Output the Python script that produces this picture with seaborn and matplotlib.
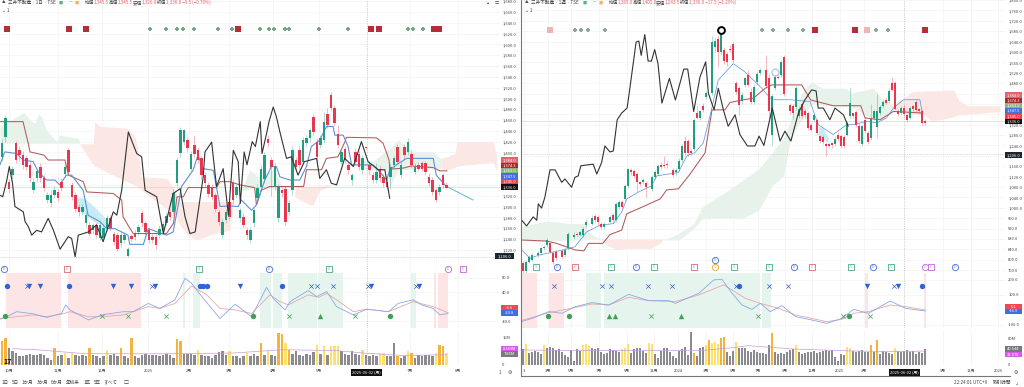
import numpy as np
import pandas as pd
import seaborn as sns
import matplotlib
matplotlib.use("Agg")
import matplotlib.pyplot as plt

sns.set_theme(style="white")
plt.rcParams['font.family'] = ['Noto Sans CJK JP', 'DejaVu Sans']
plt.rcParams['axes.unicode_minus'] = False

UP, DOWN = '#1f9e80', '#e8384f'

# ------------------- daily chart (left) -------------------
l_open = [1392,1429,1345,1358,1417,1404,1395,1389,1377,1330,1352,1374,1352,1312,1306,1321,1327,1346,1361,1404,1340,1321,1300,1290,1270,1266,1256,1265,1241,1241,1260,1278,1250,1247,1232,1238,1208,1245,1250,1253,1288,1269,1256,1244,1244,1247,1256,1270,1290,1290,1343,1399,1420,1423,1370,1414,1404,1389,1358,1340,1336,1321,1290,1247,1275,1309,1343,1321,1278,1281,1256,1238,1269,1315,1337,1350,1424,1386,1337,1278,1330,1333,1290,1330,1386,1405,1383,1417,1426,1466,1420,1414,1423,1472,1506,1482,1435,1383,1407,1377,1349,1401,1398,1367,1410,1377,1358,1349,1370,1355,1346,1355,1377,1411,1358,1411,1401,1398,1364,1377,1380,1380,1355,1349,1330,1327,1358,1340]
l_close = [1417,1463,1333,1370,1386,1395,1377,1374,1352,1346,1365,1352,1335,1321,1321,1330,1315,1334,1374,1364,1318,1296,1290,1300,1285,1250,1265,1247,1266,1260,1278,1260,1235,1222,1247,1247,1222,1240,1244,1262,1269,1253,1238,1238,1229,1259,1268,1282,1281,1325,1386,1441,1441,1408,1398,1398,1386,1358,1343,1324,1318,1296,1272,1272,1290,1281,1312,1337,1293,1266,1247,1256,1293,1335,1370,1395,1418,1374,1374,1337,1325,1272,1306,1405,1374,1377,1423,1426,1441,1438,1392,1426,1457,1451,1482,1454,1414,1401,1386,1367,1358,1383,1374,1389,1408,1367,1349,1364,1352,1343,1336,1374,1389,1383,1377,1395,1420,1377,1374,1370,1370,1364,1343,1327,1312,1336,1340,1335]
l_high = [1425,1470,1350,1375,1422,1412,1402,1395,1385,1352,1370,1380,1358,1326,1330,1338,1332,1352,1380,1408,1345,1326,1305,1305,1290,1272,1270,1270,1272,1268,1284,1285,1255,1252,1252,1252,1226,1250,1256,1268,1294,1274,1262,1250,1250,1265,1274,1288,1296,1332,1392,1447,1444,1428,1402,1432,1410,1394,1364,1345,1342,1326,1296,1278,1296,1315,1350,1342,1298,1288,1262,1262,1298,1342,1376,1400,1432,1392,1380,1342,1336,1338,1312,1412,1392,1412,1428,1432,1446,1472,1426,1432,1475,1482,1512,1488,1450,1408,1412,1382,1362,1408,1402,1395,1412,1384,1364,1380,1376,1360,1352,1380,1394,1416,1384,1416,1426,1404,1380,1382,1384,1385,1362,1354,1335,1342,1362,1345]
l_low = [1385,1420,1325,1350,1380,1385,1370,1368,1345,1325,1345,1345,1328,1306,1300,1315,1310,1328,1355,1360,1312,1290,1282,1285,1262,1245,1250,1242,1238,1236,1255,1255,1228,1218,1226,1233,1206,1235,1238,1248,1262,1248,1232,1232,1222,1242,1250,1265,1275,1285,1338,1392,1414,1400,1365,1392,1380,1350,1336,1318,1312,1290,1265,1242,1270,1275,1305,1316,1272,1260,1240,1232,1262,1308,1330,1345,1410,1320,1330,1272,1318,1266,1285,1322,1368,1370,1378,1410,1420,1432,1375,1408,1418,1445,1476,1448,1408,1378,1380,1360,1340,1378,1368,1360,1406,1360,1344,1344,1346,1336,1330,1332,1372,1378,1352,1388,1396,1372,1360,1365,1365,1358,1338,1322,1308,1322,1335,1332]

l_kijun_x = [-0.6,6,7.5,8,12,13.2,18,19,23.2,24.2,31.8,34.2,34.6,36.6,37.5,47,49,50,51.8,53.2,61.3,62.3,65.1,68,72.2,72.7,74.1,76.5,86.2,87,91.3,92.7,96,98,98.4,107,108.9,110.6,110.8,114.6,117,123.2,125.1,127.2]
l_kijun = [1457,1457,1417,1401,1395,1386,1386,1358,1346,1327,1324,1312,1281,1259,1250,1250,1269,1318,1318,1335,1335,1346,1346,1340,1335,1303,1330,1337,1337,1368,1368,1389,1392,1420,1428,1427,1417,1386,1369,1371,1375,1372,1366,1366]
l_tenkan_x = [-0.6,0.8,4.2,6,8.9,10.4,12.7,15.1,16.5,18.4,19.9,23.2,24.6,28,29.9,32.3,36,36.5,40.4,41.8,47,48.9,50.8,51.3,54.6,56,57.5,60.4,62.3,65.1,67.5,68.4,71.3,72.7,75.1,77,78.4,79.4,82.2,85.1,87,88.4,90.8,92.7,94.6,95.1,97.5,98.9,99.9,106,107,109.9,110.8,112.7,115.6,123.2,124.1,127]
l_tenkan = [1377,1401,1398,1386,1383,1364,1349,1349,1340,1358,1358,1330,1284,1272,1259,1259,1247,1230,1230,1259,1247,1253,1318,1337,1367,1395,1370,1367,1300,1301,1300,1312,1293,1303,1349,1374,1374,1355,1349,1349,1374,1411,1423,1448,1448,1432,1432,1411,1377,1377,1371,1349,1368,1377,1389,1389,1358,1337]
l_chikou_x = [-0.6,0.2,1.3,2.1,3,3.7,6.1,6.6,7.5,8.5,9.9,11.3,13.2,14.7,16.6,18.9,19.9,20.9,21.8,24.7,27,28.9,31.8,32.8,34.2,36.1,38.5,39.9,40.9,44.2,46.1,48.9,50.9,52.3,53.7,55.2,57.5,58,59.9,61.3,63.2,64.7,66.1,67.5,68.1,69.2,70,71.5,72.4,73.8,74.3,75.6,76.3,77.5,78.4,79.4,81.3,82.7,84.6,86.4,89.9,90.8,92.7,94.1,95.6,97.9,100.4,102.7,104.6,107.5,109.4,110.8]
l_chikou = [1321,1318,1346,1374,1343,1300,1290,1272,1263,1247,1256,1253,1278,1256,1221,1244,1241,1207,1247,1253,1266,1235,1290,1284,1330,1438,1398,1392,1330,1318,1250,1324,1333,1281,1250,1253,1355,1401,1419,1337,1370,1284,1404,1383,1306,1401,1377,1420,1411,1457,1398,1435,1457,1484,1466,1438,1389,1392,1358,1383,1389,1352,1368,1343,1340,1389,1374,1420,1383,1368,1368,1315]
l_cloud_g1_x = [-0.6,4.2,6.3,8,9.4,10.4,11.3,12.7,15.6,16.4,21.8,22.3]
l_cloud_g1_top = [1448,1466,1474,1460,1454,1471,1466,1441,1420,1432,1426,1417]
l_cloud_g1_bot = [1417]*12
l_cloud_r1_x = [22.3,26.1,26.5,28,35.6,38,39,39.9,47,48.9,50.8,52.7,55.6,60.4,65.1,66]
l_cloud_r1_top = [1416,1416,1457,1448,1445,1429,1398,1355,1352,1337,1309,1309,1309,1309,1309,1309]
l_cloud_r1_bot = [1414,1377,1375,1370,1346,1340,1335,1330,1296,1293,1266,1250,1238,1250,1256,1306]
l_cloud_g2_x = [65.1,68.9,70.8,73.2,77.5,80.3,81.3]
l_cloud_g2_top = [1330,1337,1368,1355,1368,1337,1337]
l_cloud_g2_bot = [1327,1330,1333,1337,1337,1335,1303]
l_cloud_r2_x = [83.7,88,88.9,90.8,93.7]
l_cloud_r2_top = [1337,1337,1337,1337,1340]
l_cloud_r2_bot = [1318,1303,1303,1330,1338]
l_cloud_g3_x = [102.7,106,109.9,110.8,113.2,115.1,117,123.2,125.3]
l_cloud_g3_top = [1386,1383,1404,1408,1423,1414,1401,1401,1389]
l_cloud_g3_bot = [1368,1368,1368,1337,1368,1368,1369,1370,1371]
l_cloud_r3_x = [125.4,127.1,129.4,130,140.3,141.4]
l_cloud_r3_top = [1389,1392,1398,1420,1420,1390]
l_cloud_r3_bot = [1370,1368,1372,1375,1382,1365]
l_cyan_x = [20.8,23.7,27,29.9]
l_cyan_top = [1318,1315,1296,1275]
l_cyan_bot = [1300,1284,1269,1266]
l_forecast_x = [127.4,134.6]
l_forecast = [1336,1312]

l_macd_x = [-.6,1.3,4.2,6.6,8.9,12.8,17,18.2,19.4,24.7,28.5,34.7,37.5,41.8,45.1,49.4,52.3,54.2,57.1,62.3,66.6,71.3,75.6,77.5,80.9,82.3,87.5,89.9,92.8,95.6,100.4,104.2,110.4,113.2,117.5,119.9,123.2,125.1,127.5]
l_macd = [-35,-28,-14,-17,-20,-30,-19,5,-9,-37,-23,-14,-14,9,-5,19,79,65,28,-33,7,-28,54,23,-9,14,45,28,42,0,-23,-7,-14,9,19,5,-5,-23,-19]
l_signal_x = [-.6,8.9,12.8,17,19.4,24.7,28.5,34.7,41.8,45.1,49.4,54.2,58.5,62.3,66.6,71.3,76.6,79.4,81.8,87.5,90.4,92.8,95.6,100.4,104.2,110.4,117.5,123.2,127.5]
l_signal = [-33,-23,-28,-21,-14,-28,-28,-23,0,-5,9,58,33,-5,-9,-19,33,14,5,33,26,37,19,-14,-7,-14,14,0,-17]
l_red_spans = [(1.1,17),(18.9,39.6),(123.4,124),(124.7,127.5)]
l_green_spans = [(51.6,52.3),(54.7,56.6),(73.7,77),(77.5,79.9),(81.8,89.9),(90.4,97.3),(117,118.2)]
l_blue_circle = [1.3,19.2,56.6,57.5,58.5,80.1]
l_blue_tri = [7.8,10.9,31.6,36.8,43.7,68,105.4,119.2]
l_blue_x = [7.1,42.8,88.2,90.1,94.5,104.5,118.3]
l_green_circle = [.8,71.8,110.9]
l_green_tri = [90.9]
l_green_x = [28.5,36.1,46.8,82,100.9]

l_vol = [13.1,15.0,9.4,7.5,6.5,4.7,4.7,5.6,6.0,5.6,5.6,6.0,5.6,3.8,3.0,9.4,4.7,5.6,6.6,4.1,6.6,5.6,4.7,5.6,5.2,9.4,5.6,4.7,3.8,5.2,8.4,5.6,6.0,5.2,9.4,4.7,3.8,15.0,4.7,4.1,5.6,6.0,5.6,5.6,5.6,5.2,5.6,6.0,5.6,4.1,14.1,13.1,6.0,6.0,6.0,5.6,8.4,5.6,5.2,4.7,4.1,5.6,7.0,7.5,5.6,7.5,5.2,4.7,3.8,4.7,6.6,5.2,6.0,5.2,12.2,5.6,7.5,5.6,5.2,17.8,16.9,12.2,8.4,6.0,7.5,5.6,4.7,6.0,5.6,7.0,11.2,6.0,10.3,5.6,10.3,10.3,10.3,7.5,6.0,5.6,7.5,6.0,5.6,8.4,5.6,5.2,5.6,5.0,6.6,6.6,4.7,5.2,12.2,4.7,4.1,5.2,7.5,6.6,3.8,5.6,5.2,5.6,5.6,4.7,6.6,11.2,10.3,6.6]
l_cat = [2,2,0,0,0,0,0,0,0,0,0,0,0,0,0,2,0,0,1,0,1,0,0,0,0,2,0,0,0,0,1,0,0,0,2,0,0,2,0,0,0,0,0,0,0,0,0,0,0,0,2,2,0,0,0,0,1,0,0,0,0,0,0,0,0,1,0,0,0,0,1,0,0,0,2,0,1,0,0,2,2,1,2,0,0,0,0,0,0,0,1,0,1,0,1,1,1,0,0,0,0,0,0,1,0,0,0,0,1,1,0,0,0,2,0,0,1,2,0,0,0,0,0,0,1,2,2,1]
l_vol_ma_x = [3,10,22,28,47,66,80,95,104,114,127]
l_vol_ma = [9.0,8.4,6.5,6.2,6.2,6.6,8.4,8.0,6.5,5.3,5.6]

l_top_red = [1.4,19.1,24,67.4,105.4,107.7,123.4,124.9]
l_top_small = [42.3,46.9,50,51.7,54.9,61.7,65.7,73.7,76.3,77.7,80.9,82,90.6,98.9,116,117.4,120.3]
l_icons = [(.6,'D','#5b7fd6'),(18.6,'E','#e27d84'),(56.3,'S','#5fb59a'),(76.3,'D','#5b7fd6'),(93.4,'S','#5fb59a'),(127.4,'D','#c77bdc'),(131.7,'E','#c77bdc')]

l_month_labels = ['10月','11月','12月','2025','2月','3月','4月','5月','7月','8月']
l_month_pos = [2,16,28.6,41.7,53.4,64.9,77.4,90.6,116.6,130.3]

# ------------------- weekly chart (right) -------------------
r_week = [0,1,2,3,5,6,7,8,9,10,11,13,14,15,17,18,19,20,21,23,24,25,26,27,29,30,31,32,33,34,35,36,37,38,39,40,41,43,44,45,46,47,48,50,51,52,53,54,55,56,57,58,59,
          60,61,63,64,65,66,67,68,69,70,71,72,73,74,75,76,77,78,79,81,82,83,84,85,86,87,89,90,91,92,93,94,95,96,97,98,99,100,101,102,103,104,105,106,107,108,109,110,111,112,113,114,115,116,117,118,119,120,121,122,123,124,125,126,127,128,129,130,131,132,133,134]
r_open = [787,755,793,800,819,825,844,857,863,825,831,834,819,844,888,901,897,895,935,939,968,965,939,926,946,971,952,1003,1024,1034,1085,1146,1142,1130,1098,1100,1095,1073,1120,1130,1164,1165,1168,1146,1136,1149,1184,1257,1257,1219,1225,1365,1346,
          1393,1428,1441,1619,1650,1600,1609,1593,1612,1629,1479,1460,1412,1473,1511,1447,1409,1485,1520,1530,1498,1282,1460,1504,1511,1581,1396,1390,1388,1352,1400,1371,1365,1320,1339,1339,1276,1273,1244,1244,1248,1244,1282,1276,1272,1282,1352,1365,1367,1316,1244,1339,1288,1270,1346,1311,1365,1390,1415,1413,1479,1479,1371,1365,1384,1358,1346,1390,1409,1380,1374,1333]
r_close = [755,793,812,819,825,844,850,876,831,793,806,812,838,901,897,895,905,918,946,961,952,946,926,939,965,952,1015,1022,1003,1083,1149,1136,1123,1098,1092,1108,1079,1117,1136,1162,1159,1162,1164,1127,1146,1181,1238,1212,1212,1212,1339,1346,1371,
          1377,1441,1638,1642,1600,1670,1565,1562,1609,1570,1447,1396,1435,1498,1473,1409,1466,1517,1532,1470,1371,1431,1504,1500,1562,1438,1371,1365,1460,1380,1352,1358,1308,1301,1358,1288,1257,1253,1238,1238,1240,1266,1266,1238,1238,1327,1405,1352,1320,1257,1314,1295,1253,1342,1371,1371,1388,1409,1405,1451,1454,1380,1361,1386,1361,1339,1384,1380,1377,1371,1327,1327]
r_high = [795,800,820,826,832,850,858,885,870,832,838,842,845,908,905,908,912,925,955,972,975,972,946,945,972,980,1022,1030,1030,1090,1155,1152,1150,1138,1105,1115,1103,1125,1145,1170,1175,1200,1182,1155,1152,1190,1246,1275,1265,1228,1345,1390,1378,
          1405,1448,1660,1652,1665,1695,1620,1600,1625,1640,1490,1470,1445,1505,1530,1460,1475,1525,1540,1590,1515,1440,1512,1510,1570,1590,1405,1398,1470,1390,1408,1380,1372,1328,1365,1345,1282,1280,1255,1250,1255,1275,1290,1285,1282,1335,1465,1362,1375,1325,1320,1348,1295,1400,1378,1440,1395,1415,1425,1460,1504,1490,1380,1392,1395,1366,1392,1396,1415,1385,1380,1340]
r_low = [748,750,788,795,812,820,838,850,825,785,798,805,812,838,880,890,890,888,928,932,945,935,918,920,940,940,945,995,995,1028,1078,1125,1115,1060,1085,1092,1040,1065,1112,1122,1150,1155,1155,1120,1128,1142,1178,1205,1200,1205,1218,1340,1338,
          1370,1420,1435,1600,1542,1590,1552,1545,1600,1560,1440,1358,1400,1465,1465,1400,1400,1478,1512,1462,1340,1240,1455,1495,1505,1430,1360,1340,1380,1345,1340,1345,1300,1295,1330,1280,1250,1245,1200,1230,1232,1238,1258,1230,1230,1275,1345,1345,1312,1250,1238,1288,1245,1262,1338,1270,1358,1385,1398,1405,1448,1375,1352,1358,1352,1330,1340,1372,1370,1365,1320,1318]

r_kijun_x = [-.4,7.9,11.2,17.3,20.3,21.8,26.6,29,32.9,34.6,38.4,45.7,47.9,51.8,55.7,60.7,61.5,63,67.3,69,72.9,76.8,80.7,82.9,92.9,95.9,103.4,112.6,114,119,123.5,132.9]
r_kijun = [876,872,863,838,834,863,863,897,914,977,996,1034,1069,1073,1130,1212,1270,1377,1377,1405,1415,1422,1460,1473,1473,1415,1393,1393,1346,1339,1371,1365]
r_tenkan_x = [-.4,2.3,5.7,13.4,17.3,21.2,25.7,30.1,32.9,34.6,38.4,42.9,44.6,51.8,54.6,57.3,60.1,62.3,65.1,70.1,74,79.6,82.9,89,95.7,98.4,103.4,107.9,110.1,114.6,117.9,121.2,123.5,126.8,132.3,133]
r_tenkan = [838,806,819,838,850,907,933,939,984,1034,1060,1085,1123,1136,1200,1212,1250,1352,1492,1555,1523,1460,1416,1416,1409,1320,1282,1320,1320,1333,1327,1346,1384,1416,1416,1371]
r_chikou_x = [-.4,1.2,3.4,4.6,5.1,6.2,7.3,9,10.7,12.9,14,16.2,17.3,18.4,19.3,23.4,24.6,26.2,27.3,29,30.1,31.4,32.9,34.7,35.4,37.7,38.6,39.4,40.6,41.7,42.8,43.9,45,46.3,48.8,50.8,53.6,54.9,56.9,59,60.9,61.8,63.7,65.1,66.8,68.4,70.7,72.3,74.8,77.3,78.7,80.3,83.1,85.7,87.3,89.3,91.8,94,96.2,97.7,98.4,100.1,102.3,104,106.8,108.4]
r_chikou = [952,930,965,952,1015,999,1041,1146,1146,1098,1111,1079,1117,1123,1162,1168,1130,1174,1238,1215,1219,1339,1365,1384,1441,1638,1642,1587,1667,1565,1565,1609,1555,1403,1498,1415,1534,1534,1371,1504,1562,1441,1377,1460,1377,1314,1358,1282,1238,1238,1276,1240,1384,1257,1295,1257,1365,1416,1454,1450,1384,1384,1339,1384,1358,1314]
r_cloud_g1_x = [-.4,3.4,8.4,15.7,20.7,22.3,25.7]
r_cloud_g1_top = [926,939,949,939,939,901,880]
r_cloud_g1_bot = [880,872,872,876,876,880,880]
r_cloud_r1_x = [25.7,27.9,31.2,34.6,42.3,45.7,46.8]
r_cloud_r1_top = [880]*7
r_cloud_r1_bot = [880,857,838,844,844,863,880]
r_cloud_g2_x = [46.9,51.9,56.9,59.7,67.4,73,78.6,83,86.9,89,90,94,96.2,100,107.9,109,116.8,119.5,122.3,124]
r_cloud_g2_top = [876,901,939,1003,1060,1104,1149,1212,1270,1327,1377,1460,1485,1460,1460,1441,1460,1422,1403,1385]
r_cloud_g2_bot = [876,876,920,958,961,958,990,1085,1123,1257,1285,1360,1403,1393,1393,1393,1340,1339,1365,1380]
r_cloud_r2_x = [122.3,126.9,129.7,134,136.3,143.5,145.2,148,159]
r_cloud_r2_top = [1384,1422,1447,1450,1450,1454,1415,1393,1393]
r_cloud_r2_bot = [1384,1365,1362,1358,1333,1350,1358,1360,1371]
r_cyan_x = [98.4,100.1,101.8]
r_cyan_top = [1314,1308,1270]
r_cyan_bot = [1282,1263,1250]

r_macd_x = [-.6,3,8.6,13,17.4,23,28.6,35.2,41.9,48.6,50.8,58.6,63.6,66.3,69.7,73,76.3,79.1,82.4,86.3,90.8,96.3,101.3,106.3,110.2,115.2,122.4,127.5,134.1]
r_macd = [-78,-56,-11,-22,22,49,33,104,62,62,44,111,200,204,111,33,4,44,-11,29,-44,-67,-89,-56,4,-22,60,11,-7]
r_signal_x = [-.6,8.6,17.4,23,28.6,35.2,41.9,50.8,58.6,66.9,74.1,79.1,85.2,90.8,101.3,106.3,110.2,115.2,122.4,127.5,134.1]
r_signal = [-71,-18,16,40,33,84,62,56,100,167,78,44,11,-33,-78,-62,-22,-11,33,22,0]
r_red_spans = [(-.6,4.7),(8.8,13.8),(114.1,115),(133.6,134.3)]
r_green_spans = [(21,26),(27.1,79.1),(79.7,82.7)]
r_blue_x = [10.2,26.4,29.4,41.6,49.8,71,82.1,88.2,123.8]
r_blue_circle = [72.1,132.9]
r_blue_tri = [114.7,124.9]
r_green_circle = [8.2,15.2,108.6]
r_green_tri = [28.6,30.6,52.8]
r_green_x = [42.7,78.2,106.6,115.6]

r_vol = [48,62,36,40,42,40,32,60,52,55,50,45,48,38,30,25,45,12,48,42,60,62,58,50,48,50,38,34,36,48,45,42,38,48,52,63,36,48,50,52,42,36,65,62,32,22,42,50,52,38,28,20,42,48,54,30,98,36,26,50,55,60,75,65,70,62,82,85,40,28,42,70,50,52,50,42,38,44,38,36,36,34,60,95,40,34,35,34,40,46,48,60,38,32,36,38,40,42,36,38,42,44,42,44,25,12,32,30,55,52,42,38,42,44,40,38,60,40,75,34,42,40,36,34,50,42,38,42,44,38,42,34,38,36,48]
r_cat = [0,1,0,0,0,0,0,1,0,0,0,0,0,0,0,0,0,0,0,0,1,1,1,0,0,0,0,0,0,0,0,0,0,1,1,1,0,0,0,0,0,0,1,1,0,0,0,0,0,0,0,0,0,0,0,0,0,2,0,0,0,1,2,1,1,1,2,2,0,0,0,1,0,0,0,0,0,0,0,0,0,0,0,2,0,0,0,0,0,0,0,1,0,0,0,0,0,0,0,0,0,0,0,0,0,0,0,0,1,1,0,0,0,0,0,0,2,0,2,0,0,0,0,0,1,0,0,0,0,0,0,0,0,0,0]
r_vol_ma_x = [0,20,40,60,70,75,90,110,125,134]
r_vol_ma = [45,43,44,44,52,58,48,42,40,42]

r_top_red = [97.3,110.7,134]
r_top_pale = [9,114.7]
r_top_small = [17.4,19.3,21.6,27.4,79.7,83.3,88.3,93.3,117.7,121.7]
r_icons = [(4.3,'S','#5fb59a'),(11.3,'D','#5b7fd6'),(17.3,'E','#e27d84'),(29.3,'S','#5fb59a'),(37.7,'D','#5b7fd6'),(43.7,'S','#5fb59a'),(57,'E','#e27d84'),(64,'O','#eeb14d'),(70.3,'S','#5fb59a'),(82,'S','#5fb59a'),(90.3,'D','#5b7fd6'),(96.3,'E','#e27d84'),(109.3,'S','#5fb59a'),(116.7,'D','#5b7fd6'),(122.7,'S','#5fb59a'),(134,'D','#c77bdc'),(136,'E','#c77bdc'),(144,'D','#5b7fd6')]

r_month_labels = ['3','3月','5月','7月','9月','11月','2024','3月','5月','7月','9月','11月','2025','3月','9月','11月','2026']
r_month_pos = [0.2,8.4,16.1,25.2,34.7,43.8,51.7,60.9,70.1,78.3,87.2,96.3,105.6,113.6,140,149.4,158.4]

# ------------------- figure -------------------
W, H = 1024, 387
fig = plt.figure(figsize=(W/100, H/100), dpi=100, facecolor='white')

def rect(x0, y0, x1, y1):
    return [x0/W, 1-y1/H, (x1-x0)/W, (y1-y0)/H]

TICK = 2.9
GRID = '#f3f3f3'

def style(ax, yticks, fmt):
    sns.despine(ax=ax, left=True, bottom=True, right=True, top=True)
    ax.set_facecolor('none')
    ax.yaxis.tick_right()
    ax.set_yticks(yticks)
    ax.set_yticklabels([fmt(v) for v in yticks])
    ax.tick_params(axis='y', labelsize=TICK, length=0, pad=1.6, labelcolor='#444444')
    ax.set_xlabel(''); ax.set_ylabel('')

def line(ax, x, y, color, lw, z=3):
    sns.lineplot(x=x, y=y, ax=ax, color=color, lw=lw, estimator=None, sort=False, zorder=z, legend=False)

def cloud(ax, x, top, bot, color):
    ax.fill_between(x, bot, top, color=color, lw=0, zorder=1)

def candles(ax, x, o, c, h, l, width):
    o, c, h, l, x = map(np.asarray, (o, c, h, l, x))
    col = np.where(c >= o, UP, DOWN)
    ax.vlines(x, l, h, colors=col, lw=0.45, alpha=.55, zorder=4)
    ax.bar(x, np.abs(c-o), bottom=np.minimum(o, c), width=width, color=col, lw=0, zorder=4)

def markers(ax, x, yval, m, color, s=15, lw=0.0, **kw):
    if len(x) == 0:
        return
    sns.scatterplot(x=x, y=[yval]*len(x), ax=ax, marker=m, color=color, s=s, legend=False, zorder=5, linewidth=lw, **kw)

VOL_COL = {0: '#8a8a90', 1: '#fde26a', 2: '#f6b23e'}

def vol_bars(ax, idx, vol, cat):
    ax.bar(idx, vol, width=.8, color=[VOL_COL[k] for k in cat], lw=0, zorder=3)

def icons(ax, items, yval):
    for xv, ch, col in items:
        sns.scatterplot(x=[xv], y=[yval], ax=ax, marker='o' if ch in 'DO' else 's', s=20, facecolor='white',
                        edgecolor=col, linewidth=.7, legend=False, zorder=6)
        ax.text(xv, yval, ch, fontsize=2.6, color=col, ha='center', va='center', zorder=7)

BLUE_LINE = '#5f8fd8'; RED_LINE = '#b05a5d'; BLACK = '#333333'
CG = '#e7f2eb'; CR = '#fbe7e4'; MK = '#2f62d8'; MG = '#3f9f55'

def panel(x0, x1, xlim, ylim, pticks, vert, h_price, last, o, c, h, l, xs, width,
          kij, ten, chi, clouds, cyan, macd, sig, macd_lim, mticks, mfmt, red_sp, green_sp,
          vols, cats, volx, ma, vlim, vticks, vfmt, months, ten_lw):
    ax = fig.add_axes(rect(x0, 0, x1, 273))
    for cl in clouds:
        cloud(ax, *cl)
    cloud(ax, *cyan)
    candles(ax, xs, o, c, h, l, width)
    line(ax, *kij, RED_LINE, 0.75)
    line(ax, *ten, BLUE_LINE, ten_lw)
    line(ax, *chi, BLACK, 0.8, z=5)
    ax.axhline(last, color='#f4c9c9', lw=.5, zorder=2)
    ax.axhline(h_price, color='#bbbbbb', lw=.4, ls=(0, (2, 2)), zorder=2)
    ax.axvline(vert, color='#aaaaaa', lw=.4, ls=(0, (2, 2)), zorder=2)
    ax.set_xlim(*xlim); ax.set_ylim(*ylim)
    style(ax, pticks, lambda v: f"{v:,.1f}")
    ax.set_xticks(months[1]); ax.set_xticklabels([])
    ax.tick_params(axis='x', length=0)
    ax.grid(True, color=GRID, lw=.5); ax.set_axisbelow(True)

    am = fig.add_axes(rect(x0, 273, x1, 328))
    for a, b in red_sp:
        am.axvspan(a, b, color='#fde5e5', lw=0, zorder=1)
    for a, b in green_sp:
        am.axvspan(a, b, color='#e6f4ee', lw=0, zorder=1)
    line(am, *sig, '#e4a8a8', .6)
    line(am, *macd, '#8aa9e6', .6)
    am.axvline(vert, color='#aaaaaa', lw=.4, ls=(0, (2, 2)))
    am.set_xlim(*xlim); am.set_ylim(*macd_lim)
    style(am, mticks, mfmt)
    am.set_xticks(months[1]); am.set_xticklabels([])
    am.tick_params(axis='x', length=0)
    am.grid(True, color=GRID, lw=.5); am.set_axisbelow(True)

    av = fig.add_axes(rect(x0, 330, x1, 365))
    vol_bars(av, volx, vols, cats)
    line(av, *ma, '#c99ad9', .5, z=5)
    av.axvline(vert, color='#aaaaaa', lw=.4, ls=(0, (2, 2)))
    av.set_xlim(*xlim); av.set_ylim(*vlim)
    style(av, vticks, vfmt)
    av.set_xticks(months[1]); av.set_xticklabels(months[0])
    av.tick_params(axis='x', labelsize=TICK, length=0, pad=3, labelcolor='#444444')
    av.grid(True, color=GRID, lw=.5, axis='x'); av.set_axisbelow(True)
    return ax, am, av

l_clouds = [(l_cloud_g1_x, l_cloud_g1_top, l_cloud_g1_bot, CG), (l_cloud_r1_x, l_cloud_r1_top, l_cloud_r1_bot, CR),
            (l_cloud_g2_x, l_cloud_g2_top, l_cloud_g2_bot, CG), (l_cloud_r2_x, l_cloud_r2_top, l_cloud_r2_bot, CR),
            (l_cloud_g3_x, l_cloud_g3_top, l_cloud_g3_bot, CG), (l_cloud_r3_x, l_cloud_r3_top, l_cloud_r3_bot, CR)]
r_clouds = [(r_cloud_g1_x, r_cloud_g1_top, r_cloud_g1_bot, CG), (r_cloud_r1_x, r_cloud_r1_top, r_cloud_r1_bot, CR),
            (r_cloud_g2_x, r_cloud_g2_top, r_cloud_g2_bot, CG), (r_cloud_r2_x, r_cloud_r2_top, r_cloud_r2_bot, CR)]

l_ax, l_m, l_v = panel(0, 500, (-0.57, 142.3), (1177, 1682), list(range(1220, 1681, 20)), 104.3, 1206, 1336,
    l_open, l_close, l_high, l_low, list(range(len(l_open))), .72,
    (l_kijun_x, l_kijun), (l_tenkan_x, l_tenkan), (l_chikou_x, l_chikou), l_clouds,
    (l_cyan_x, l_cyan_top, l_cyan_bot, '#c9ecf4'), (l_macd_x, l_macd), (l_signal_x, l_signal),
    (-59.5, 93.9), [80, 40, -40], lambda v: f"{v:.1f}", l_red_spans, l_green_spans,
    l_vol, l_cat, list(range(len(l_vol))), (l_vol_ma_x, l_vol_ma), (0, 19.3), [15, 0],
    lambda v: "15M" if v else "0", (l_month_labels, l_month_pos), 0.8)
line(l_ax, l_forecast_x, l_forecast, '#5db3c8', .7)
markers(l_ax, l_top_red, 1628, 's', '#b92b35', s=24)
markers(l_ax, l_top_small, 1628, 'P', '#7aa387', s=7)
icons(l_ax, l_icons, 1184)
markers(l_m, l_blue_circle, 58.6, 'o', MK)
markers(l_m, l_blue_tri, 58.6, 'v', MK)
markers(l_m, l_blue_x, 58.6, 'x', MK, s=10, lw=.5)
markers(l_m, l_green_circle, -26, 'o', MG)
markers(l_m, l_green_tri, -26, '^', MG)
markers(l_m, l_green_x, -26, 'x', MG, s=10, lw=.5)

r_ax, r_m, r_v = panel(522, 1006, (-0.33, 161), (749, 1796.5), list(range(760, 1801, 40)), 127, 1206, 1336,
    r_open, r_close, r_high, r_low, r_week, .78,
    (r_kijun_x, r_kijun), (r_tenkan_x, r_tenkan), (r_chikou_x, r_chikou), r_clouds,
    (r_cyan_x, r_cyan_top, r_cyan_bot, '#c9ecf4'), (r_macd_x, r_macd), (r_signal_x, r_signal),
    (-120, 246), [200, 100, -100], lambda v: f"{v:.1f}", r_red_spans, r_green_spans,
    r_vol, r_cat, list(range(len(r_vol))), (r_vol_ma_x, r_vol_ma), (0, 105), [80, 0],
    lambda v: "80M" if v else "0", (r_month_labels, r_month_pos), 0.5)
markers(r_ax, r_top_red, 1686, 's', '#b92b35', s=24)
markers(r_ax, r_top_pale, 1686, 's', '#f0b3b3', s=14)
markers(r_ax, r_top_small, 1686, 'P', '#8aa894', s=7)
sns.scatterplot(x=[66], y=[1686], ax=r_ax, marker='o', s=24, facecolor='white', edgecolor='black', linewidth=1.4, legend=False, zorder=8)
sns.scatterplot(x=[84], y=[1522], ax=r_ax, marker='o', s=24, facecolor='white', edgecolor='#b9c9e0', linewidth=1.0, legend=False, zorder=8)
icons(r_ax, r_icons, 772)
icons(r_ax, [(64, 'D', '#5b7fd6')], 798)
markers(r_m, r_blue_circle, 160, 'o', MK)
markers(r_m, r_blue_tri, 160, 'v', MK)
markers(r_m, r_blue_x, 160, 'x', MK, s=10, lw=.5)
markers(r_m, r_green_circle, -40, 'o', MG)
markers(r_m, r_green_tri, -40, '^', MG)
markers(r_m, r_green_x, -40, 'x', MG, s=10, lw=.5)

# overlay for header, tags, tooltip and footer
ov = fig.add_axes([0, 0, 1, 1], zorder=20)
ov.set_xlim(0, W); ov.set_ylim(H, 0); ov.axis('off'); ov.patch.set_alpha(0)

def txt(x, y, s, color='#444444', fs=3.3, **kw):
    ov.text(x, y, s, fontsize=fs, color=color, va='center', **kw)

def tag(x, y, s, bg, fg='white', w=17):
    ov.add_patch(plt.Rectangle((x, y-2.6), w, 5.2, color=bg, lw=0, zorder=3))
    ov.text(x+w/2, y, s, fontsize=2.9, color=fg, ha='center', va='center', zorder=4)

RV = '#e8606e'
txt(2, 2.5, '▲', fs=2.6)
txt(8, 2.5, '三井不動産 · 1日 · TSE')
txt(59, 2.5, '■', '#59b27f', fs=3); txt(69, 2.5, '—', fs=3); txt(75, 2.5, '■', '#f0b64e', fs=3)
for x, a, b in [(85, '始値', '1,345.5'), (109, '高値', '1,345.5'), (133, '安値', '1,326.0')]:
    txt(x, 2.5, a); txt(x+9, 2.5, b, RV)
txt(157, 2.5, '終値'); txt(166, 2.5, '1,336.0 −9.5 (−0.70%)', RV)
txt(2, 10, '⌄ 1')
txt(487, 2.5, '▴', fs=3); txt(495, 2.5, '□', fs=3)

txt(525, 2.5, '▲', fs=2.6)
txt(531, 2.5, '三井不動産 · 1週 · TSE')
txt(583, 2.5, '■', '#59b27f', fs=3); txt(593, 2.5, '—', fs=3); txt(599, 2.5, '■', '#f0b64e', fs=3)
for x, a, b in [(609, '始値', '1,385.0'), (633, '高値', '1,405.0'), (656, '安値', '1,243.5')]:
    txt(x, 2.5, a); txt(x+9, 2.5, b, RV)
txt(680, 2.5, '終値'); txt(689, 2.5, '1,336.0 −17.5 (−1.29%)', RV)
txt(525, 10, '⌄ 1')

tag_cols = ['#e0666c', '#a82a2f', '#8fb27c', '#3f6fe0', '#ef3d4b', '#111111']
tag_text = ['1,384.0', '1,374.3', '1,363.0', '1,347.5', '1,345.0', '1,336.0']
for y, s, col in zip([160, 165.3, 170.8, 176, 181.5, 187], tag_text, tag_cols):
    tag(501, y, s, col)
for y, s, col in zip([95, 100.3, 105.6, 110.8, 116, 121.3], tag_text, tag_cols):
    tag(1005, y, s, col)
tag(495, 256, '1,206.0', '#1c2530', w=19)
tag(1005, 155, '1,206.0', '#1c2530')
tag(501, 308, '-3.6', '#ef4a52')
tag(501, 313, '-20.8', '#3f6fe0')
tag(1005, 306.5, '5.1', '#ef4a52')
tag(1005, 311.5, '-16.9', '#3f6fe0')
tag(501, 349, '8.369M', '#d45de6')
tag(501, 354, '7.85M', '#78787e')
tag(1005, 349, '40.544', '#78787e')
tag(1005, 354.5, '32.078', '#d45de6')

for cx in (366, 904):
    ov.add_patch(plt.Rectangle((cx-15.5, 368.5), 31, 7.5, color='#111111', lw=0, zorder=3))
    ov.text(cx, 372.3, '2025-06-02 (月)', fontsize=2.9, color='white', ha='center', va='center', zorder=4)

for x, s in [(5, '1日'), (15, '5日'), (28, '1か月'), (43, '3か月'), (57, '6か月'), (73, '年初来'), (87, '1年'), (97, '5年'), (110, 'すべて')]:
    txt(x, 382, s, ha='center')
txt(124, 382, '□', fs=3.6)
txt(499, 372, '1'); txt(508, 372, '⚙', fs=3.6)
txt(954, 382, '22:24:01 UTC+9')
txt(993, 382, '取引時間')
txt(1016, 382, '⌟', fs=3.6)
txt(1014, 372, '⚙', fs=3.6)
txt(3, 361, '17', '#111111', fs=5, fontweight='bold')

ov.plot([521, 521], [0, 376], color='#777777', lw=.8)
ov.plot([521, 1010], [376, 376], color='#777777', lw=.8)

fig.savefig('out.png', dpi=100, facecolor='white')
